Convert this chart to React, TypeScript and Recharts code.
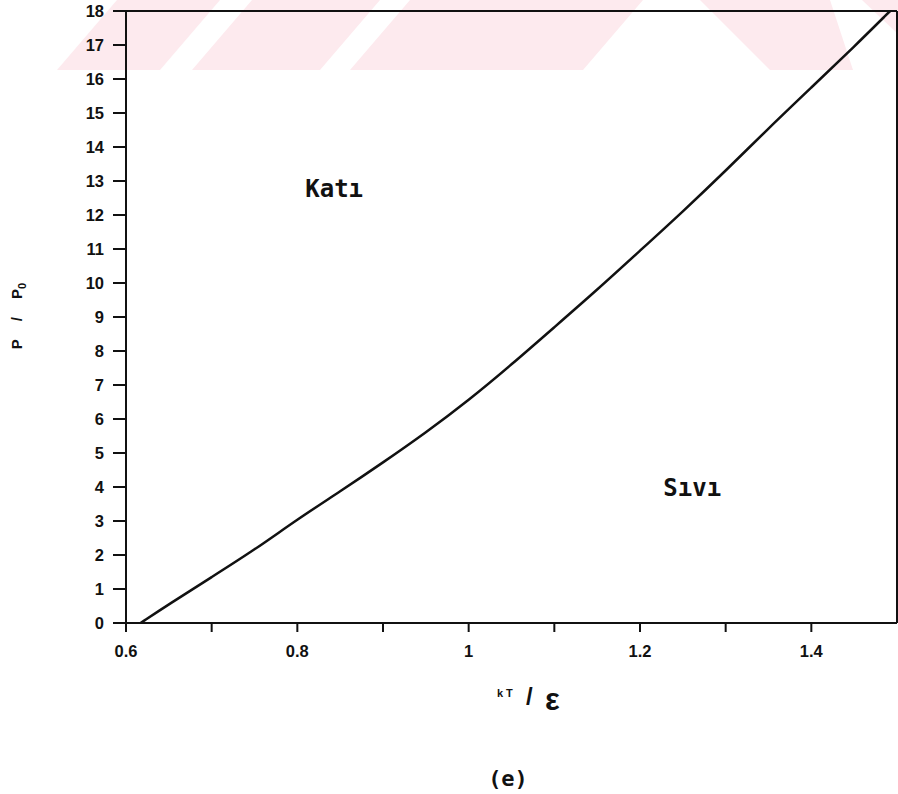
import { LineChart, Line, XAxis, YAxis, ReferenceLine, ReferenceDot } from 'recharts'

// Melting line: reduced temperature kT/ε against reduced pressure P/P0
const KT = [0.617, 0.65, 0.7, 0.75, 0.8, 0.85, 0.9, 0.95, 1.0, 1.05, 1.1, 1.15, 1.2, 1.25, 1.3, 1.35, 1.4, 1.45, 1.492]
const P_RATIO = [0, 0.55, 1.35, 2.15, 3.05, 3.87, 4.72, 5.6, 6.55, 7.6, 8.7, 9.8, 10.95, 12.1, 13.3, 14.55, 15.75, 16.95, 18]

const X_TICKS = [0.6, 0.7, 0.8, 0.9, 1, 1.1, 1.2, 1.3, 1.4]
const Y_TICKS = [0, 1, 2, 3, 4, 5, 6, 7, 8, 9, 10, 11, 12, 13, 14, 15, 16, 17, 18]

const data = KT.map((kt, i) => ({ kt, p: P_RATIO[i] }))

const INK = '#111'
const SANS = 'Liberation Sans, Arial, sans-serif'
const TICK_FONT = { fill: INK, fontSize: 16.5, fontWeight: 700, fontFamily: SANS }
const REGION_FONT = { fill: INK, fontSize: 24, fontWeight: 700, fontFamily: 'DejaVu Sans Mono, monospace' }

// faint stamp in the top band
const STAMP = [
  '57,70 160,70 220,0 117,0',
  '192,70 320,70 380,0 252,0',
  '350,70 583,70 643,0 410,0',
  '700,0 830,0 853,70 770,70',
  '862,0 898,0 898,34',
]

export default function App() {
  return (
    <div style={{ position: 'absolute', left: 0, top: 0, width: 898, height: 794, background: '#fff', overflow: 'hidden' }}>
      <svg width={898} height={794} style={{ position: 'absolute', left: 0, top: 0 }}>
        {STAMP.map((pts) => (
          <polygon key={pts} points={pts} fill="#fdeaee" />
        ))}
      </svg>

      <div style={{ position: 'absolute', left: 0, top: 0 }}>
        <LineChart width={898} height={794} data={data} margin={{ top: 11, right: 1, bottom: 141, left: 0 }}>
          <XAxis
            dataKey="kt"
            type="number"
            domain={[0.6, 1.5]}
            ticks={X_TICKS}
            tickFormatter={(v: number) => (Math.round(v * 10) % 2 === 0 ? String(v) : '')}
            tickSize={9}
            tickMargin={13}
            height={30}
            tick={TICK_FONT}
            axisLine={{ stroke: INK, strokeWidth: 2 }}
            tickLine={{ stroke: INK, strokeWidth: 2 }}
            allowDataOverflow
          />
          <YAxis
            type="number"
            domain={[0, 18]}
            ticks={Y_TICKS}
            interval={0}
            width={126}
            tickSize={13}
            tickMargin={9}
            tick={TICK_FONT}
            axisLine={{ stroke: INK, strokeWidth: 2 }}
            tickLine={{ stroke: INK, strokeWidth: 2 }}
          />
          <ReferenceLine y={18} stroke={INK} strokeWidth={2} />
          <ReferenceLine x={1.5} stroke={INK} strokeWidth={2} />
          <ReferenceDot x={0.843} y={12.79} r={0} stroke="none" label={{ value: 'Katı', position: 'center', ...REGION_FONT }} />
          <ReferenceDot x={1.261} y={3.99} r={0} stroke="none" label={{ value: 'Sıvı', position: 'center', ...REGION_FONT }} />
          <Line
            dataKey="p"
            type="basis"
            stroke={INK}
            strokeWidth={2.5}
            dot={false}
            isAnimationActive={false}
          />
        </LineChart>
      </div>

      {/* axis titles and panel letter */}
      <svg width={898} height={794} style={{ position: 'absolute', left: 0, top: 0, pointerEvents: 'none' }}>
        <text
          transform="translate(22, 316) rotate(-90)"
          textAnchor="middle"
          fontFamily={SANS}
          fontWeight={700}
          fontSize={15}
          fill={INK}
          wordSpacing={14}
        >
          P / P<tspan fontSize={11} dy={4}>0</tspan>
        </text>

        <text x={497} y={697} fontFamily={SANS} fontWeight={700} fontSize={11} letterSpacing={3} fill={INK}>
          kT
        </text>
        <text x={526} y={705} fontFamily={SANS} fontWeight={700} fontSize={24} fill={INK}>
          /
        </text>
        <text x={545} y={710} fontFamily={SANS} fontWeight={700} fontSize={31} fill={INK}>
          ε
        </text>

        <text x={508} y={786} textAnchor="middle" fontFamily="DejaVu Sans Mono, monospace" fontWeight={700} fontSize={22} fill={INK}>
          (e)
        </text>
      </svg>
    </div>
  )
}
